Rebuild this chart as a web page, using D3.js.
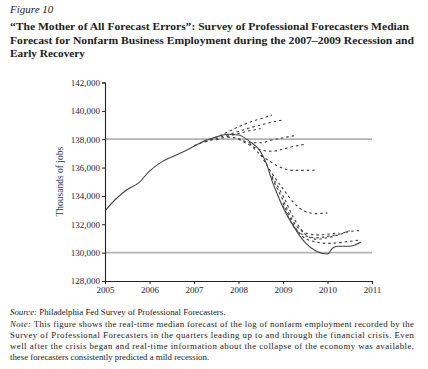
<!DOCTYPE html>
<html>
<head>
<meta charset="utf-8">
<script src="https://cdn.jsdelivr.net/npm/d3@7"></script>
<style>
  body { margin: 0; background: #fff; }
  text { font-family: "Liberation Serif", "DejaVu Serif", serif; }
</style>
</head>
<body>
<script>
const actualYears = [2005.0, 2005.25, 2005.5, 2005.75, 2006.0, 2006.25, 2006.5, 2006.75, 2007.0, 2007.25, 2007.5, 2007.75,
  2008.0, 2008.25, 2008.5, 2008.625, 2008.75, 2008.875, 2009.0, 2009.125, 2009.25, 2009.375, 2009.5, 2009.75, 2010.0,
  2010.125, 2010.25, 2010.5, 2010.75];
const actualValues = [132950, 133800, 134450, 134900, 135750, 136350, 136750, 137100, 137500, 137900, 138150, 138350,
  138300, 137850, 137100, 136300, 135100, 134100, 133200, 132450, 131800, 131200, 130700, 130100, 129900,
  130350, 130450, 130450, 130750];

// SPF median forecasts: first quarter plotted, then quarterly values
const forecastStarts = [2007.0, 2007.25, 2007.5, 2007.75, 2008.0, 2008.25, 2008.5, 2008.75, 2008.75, 2009.0, 2009.0];
const forecastValues = [
  [137550, 137850, 138150, 138500, 138880, 139200, 139450, 139700],
  [137800, 138050, 138300, 138550, 138800, 139000, 139200, 139350],
  [137950, 138200, 138400, 138600, 138750],
  [138150, 138050, 137750, 137750, 137950, 138100, 138250],
  [138000, 137600, 137250, 137150, 137300, 137500, 137650],
  [137700, 136900, 136350, 135950, 135800, 135800, 135820],
  [136900, 135600, 134500, 133500, 132900, 132750, 132800],
  [135300, 133700, 132100, 131400, 131250, 131300, 131400],
  [135400, 134000, 132400, 131300, 130950, 131050, 131250, 131500, 131550],
  [133500, 131900, 131000, 130750, 130650, 130700, 130800, 130900],
  [133300, 131800, 131200, 131050, 131150, 131300, 131550]
];

const refLines = [138000, 130000];
const yTicks = [128000, 130000, 132000, 134000, 136000, 138000, 140000, 142000];
const xTicks = [2005, 2006, 2007, 2008, 2009, 2010, 2011];

const titleLines = [
  "\u201CThe Mother of All Forecast Errors\u201D: Survey of Professional Forecasters Median",
  "Forecast for Nonfarm Business Employment during the 2007\u20132009 Recession and",
  "Early Recovery"
];
const noteLines = [
  "This figure shows the real-time median forecast of the log of nonfarm employment recorded by the",
  "Survey of Professional Forecasters in the quarters leading up to and through the financial crisis. Even",
  "well after the crisis began and real-time information about the collapse of the economy was available,",
  "these forecasters consistently predicted a mild recession."
];

const W = 428, H = 369;
const svg = d3.select('body').append('svg').attr('width', W).attr('height', H);

// heading
svg.append('text').attr('x', 10).attr('y', 13)
  .style('font-style', 'italic').style('font-size', '11px').attr('fill', '#222')
  .text('Figure 10');
titleLines.forEach((t, i) => {
  const tx = svg.append('text').attr('x', 10).attr('y', 30 + i * 13.7)
    .style('font-weight', 'bold').style('font-size', '11.3px').attr('fill', '#222')
    .text(t);
  if (i < 2) tx.attr('textLength', i == 0 ? 399 : 404).attr('lengthAdjust', 'spacingAndGlyphs');
});

const x = d3.scaleLinear().domain([2005, 2011]).range([105, 372]);
const y = d3.scaleLinear().domain([128000, 142000]).range([281, 82.5]);

const plot = svg.append('g');

plot.selectAll('line.ref')
  .data(refLines)
  .enter().append('line')
  .attr('x1', x(2005)).attr('x2', x(2011))
  .attr('y1', d => y(d)).attr('y2', d => y(d))
  .attr('stroke', '#b3b3b3').attr('stroke-width', 1.8);

const yAxis = plot.append('g').attr('transform', `translate(${x(2005)},0)`)
  .call(d3.axisLeft(y).tickValues(yTicks).tickSize(3).tickFormat(d3.format(',')));
const xAxis = plot.append('g').attr('transform', `translate(0,${y(128000)})`)
  .call(d3.axisBottom(x).tickValues(xTicks).tickSize(3).tickFormat(d3.format('d')));
[yAxis, xAxis].forEach(a => {
  a.select('.domain').attr('stroke', '#222').attr('stroke-width', 1.1);
  a.selectAll('.tick line').attr('stroke', '#222');
  a.selectAll('.tick text').attr('fill', '#1c1c3a')
    .style('font-family', '"Liberation Serif", serif').style('font-size', '9px');
});
yAxis.selectAll('.tick text').attr('x', -5);
xAxis.selectAll('.tick text').attr('y', 6);

svg.append('text')
  .attr('transform', `translate(63,${(y(128000) + y(142000)) / 2}) rotate(-90)`)
  .attr('text-anchor', 'middle').attr('fill', '#2a2f55')
  .style('font-size', '9.5px')
  .text('Thousands of jobs');

const line = d3.line().x(d => x(d[0])).y(d => y(d[1])).curve(d3.curveMonotoneX);

const forecasts = forecastStarts.map((s, i) => forecastValues[i].map((v, j) => [s + j * 0.25, v]));
plot.append('g').selectAll('path')
  .data(forecasts)
  .enter().append('path')
  .attr('d', line)
  .attr('fill', 'none').attr('stroke', '#3a3a3a')
  .attr('stroke-width', 1.1).attr('stroke-dasharray', '2.5,3');

plot.append('path')
  .datum(actualYears.map((yr, i) => [yr, actualValues[i]]))
  .attr('d', line)
  .attr('fill', 'none').attr('stroke', '#444').attr('stroke-width', 1.1);

// source and note
const foot = svg.append('g').attr('fill', '#222').style('font-size', '8.8px');
const src = foot.append('text').attr('x', 10).attr('y', 315);
src.append('tspan').style('font-style', 'italic').text('Source: ');
src.append('tspan').text('Philadelphia Fed Survey of Professional Forecasters.');
noteLines.forEach((t, i) => {
  const tx = foot.append('text').attr('x', 10).attr('y', 327 + i * 11);
  if (i == 0) tx.append('tspan').style('font-style', 'italic').text('Note: ');
  tx.append('tspan').text(t);
  if (i < 3) tx.attr('textLength', 404).attr('lengthAdjust', 'spacing');
});
</script>
</body>
</html>
